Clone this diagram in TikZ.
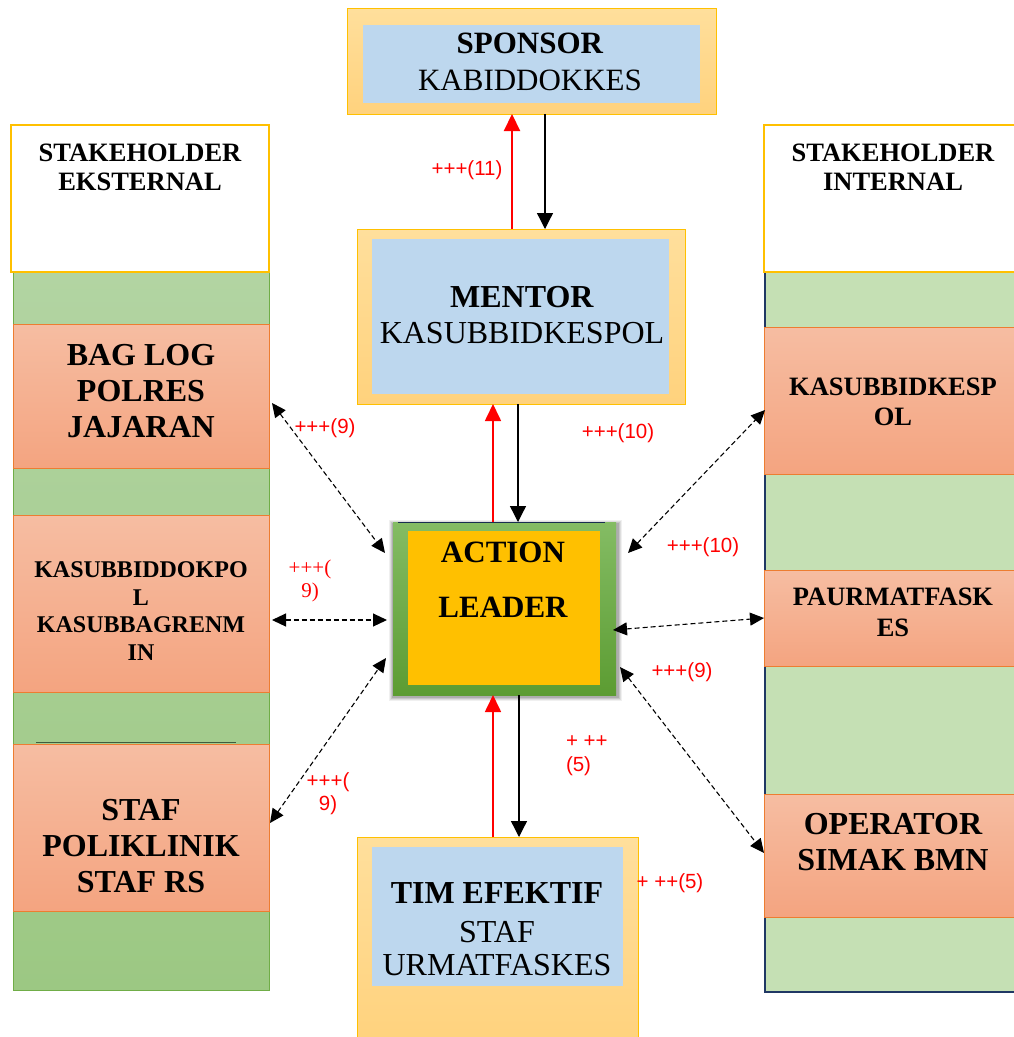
\documentclass[tikz,border=0pt]{standalone}
\usepackage{fontspec}
\setmainfont{Liberation Serif}
\newfontfamily\labelsans{Liberation Sans}
\usetikzlibrary{arrows.meta,calc}

\definecolor{boxgoldA}{HTML}{FFDF9C}
\definecolor{boxgoldB}{HTML}{FFD27D}
\definecolor{goldedge}{HTML}{FFC000}
\definecolor{paleblue}{HTML}{BDD7EE}
\definecolor{salmonA}{HTML}{F6BDA2}
\definecolor{salmonB}{HTML}{F4A480}
\definecolor{salmonedge}{HTML}{ED7D31}
\definecolor{leafA}{HTML}{B2D4A2}
\definecolor{leafB}{HTML}{9CC883}
\definecolor{leafedge}{HTML}{70AD47}
\definecolor{mint}{HTML}{C5E0B4}
\definecolor{navyedge}{HTML}{203864}
\definecolor{grassA}{HTML}{84BC64}
\definecolor{grassB}{HTML}{5C9C32}
\definecolor{amber}{HTML}{FFC000}
\definecolor{tagred}{HTML}{FF0000}
\definecolor{darkrule}{HTML}{3E5B3C}

\begin{document}
\begin{tikzpicture}[x=1pt,y=-1pt,
  every node/.style={inner sep=0pt, outer sep=0pt},
  frame/.style 2 args={rectangle, minimum width=#1pt, minimum height=#2pt},
  goldbox/.style={top color=boxgoldA, bottom color=boxgoldB, draw=goldedge, line width=1pt},
  bluebox/.style={fill=paleblue},
  salmonbox/.style={top color=salmonA, bottom color=salmonB, draw=salmonedge, line width=1pt},
  headbox/.style={fill=white, draw=goldedge, line width=2pt},
  greencol/.style={top color=leafA, bottom color=leafB, draw=leafedge, line width=0.8pt},
  mintcol/.style={fill=mint},
  leaderbox/.style={top color=grassA, bottom color=grassB},
  leaderin/.style={fill=amber},
  namebold/.style={font=\fontsize{32}{36}\selectfont\bfseries, align=center},
  headtext/.style={font=\fontsize{26.5}{29}\selectfont\bfseries, align=center},
  midtext/.style={font=\fontsize{26.5}{30.5}\selectfont\bfseries, align=center},
  smalltext/.style={font=\fontsize{24}{27.5}\selectfont\bfseries, align=center},
  blkarrow/.style={-{Triangle[length=16pt,width=16pt]}, line width=1.3pt, black},
  redarrow/.style={-{Triangle[length=17pt,width=16pt]}, line width=1.7pt, red},
  linkarrow/.style={{Triangle[length=14pt,width=13pt]}-{Triangle[length=14pt,width=13pt]},
                    dash pattern=on 5pt off 3pt, line width=1.1pt, black},
  tag/.style={text=tagred, font=\labelsans\fontsize{20.5}{24}\selectfont, align=center},
  tagserif/.style={text=tagred, font=\fontsize{21}{23}\selectfont, align=center}
]
\useasboundingbox (0,0) rectangle (1014,1037);
\clip (0,0) rectangle (1014,1037);
\fill[white] (0,0) rectangle (1014,1037);

% ---------- external stakeholders (left column) ----------
\node[frame={256}{718}, greencol] (extcol) at (141,631) {};
\node[frame={258}{147}, headbox] (exthead) at (140,198.5) {};
\node[headtext] (extheadtxt) at (140,167.5) {STAKEHOLDER\\EKSTERNAL};
\node[frame={256}{144}, salmonbox] (bag) at (141,396) {};
\node[namebold] (bagtxt) at (141,391) {BAG LOG\\POLRES\\JAJARAN};
\node[frame={256}{177}, salmonbox] (dok) at (141,603.5) {};
\node[smalltext] (doktxt) at (141,611) {KASUBBIDDOKPO\\L\\KASUBBAGRENM\\IN};
\node[frame={256}{167}, salmonbox] (staf) at (141,827.5) {};
\draw[line width=1.2pt, darkrule] (36,742.5) -- (236,742.5);
\node[namebold] (staftxt) at (141,846) {STAF\\POLIKLINIK\\STAF RS};

% ---------- internal stakeholders (right column) ----------
\node[frame={257}{720}, mintcol] (intcol) at (893.5,632) {};
\draw[navyedge, line width=2pt] (intcol.north west) -- (intcol.south west) -- (intcol.south east);
\node[frame={258}{147}, headbox] (inthead) at (893,198.5) {};
\node[headtext] (intheadtxt) at (893,167.5) {STAKEHOLDER\\INTERNAL};
\node[frame={258}{147}, salmonbox] (kes) at (893,400.5) {};
\node[midtext] (kestxt) at (893,402) {KASUBBIDKESP\\OL};
\node[frame={258}{96}, salmonbox] (paur) at (893,618) {};
\node[midtext] (paurtxt) at (893,612.5) {PAURMATFASK\\ES};
\node[frame={258}{123}, salmonbox] (oper) at (893,855.5) {};
\node[namebold] (opertxt) at (893,842.5) {OPERATOR\\SIMAK BMN};

% ---------- sponsor ----------
\node[frame={369}{106}, goldbox] (spon) at (531.5,61) {};
\node[frame={337}{78}, bluebox] (sponin) at (531.5,64) {};
\node[font=\fontsize{31}{37}\selectfont, align=center] (spontxt) at (530,62)
  {\textbf{SPONSOR}\\KABIDDOKKES};

% ---------- mentor ----------
\node[frame={328}{175}, goldbox] (ment) at (521,316.5) {};
\node[frame={297}{155}, bluebox] (mentin) at (520.5,316.5) {};
\node[font=\fontsize{32}{36}\selectfont, align=center] (menttxt) at (522,315)
  {\textbf{MENTOR}\\KASUBBIDKESPOL};

% ---------- action leader ----------
\foreach \g/\op in {5/0.06,4/0.08,3/0.10,2/0.12}
  \fill[black, opacity=\op] (393-\g+1,522-\g+3) rectangle (616+\g+1,695+\g+1);
\node[frame={223}{173}, leaderbox] (act) at (504.5,608.5) {};
\node[frame={192}{154}, leaderin] (actin) at (504,608) {};
\draw[navyedge!80!black, line width=0.8pt] (398,522) -- (605,522);
\node[font=\fontsize{31}{55}\selectfont\bfseries, align=center] (acttxt) at (503,579.5)
  {ACTION\\LEADER};

% ---------- effective team ----------
\node[frame={281}{208}, goldbox] (tim) at (497.5,941) {};
\node[frame={251}{139}, bluebox] (timin) at (497.5,916.5) {};
\node[font=\fontsize{32}{33}\selectfont, align=center] (timtxt) at (497,929)
  {\textbf{TIM EFEKTIF}\\[6pt]STAF\\URMATFASKES};

% ---------- vertical reporting lines ----------
\draw[redarrow, line width=2.2pt] ([xshift=-9pt]ment.north) -- ([xshift=-9pt]ment.north |- spon.south);
\draw[blkarrow] ([xshift=24pt]ment.north |- spon.south) -- ([xshift=24pt]ment.north);
\node[tag] (t11) at (467,170) {+++(11)};

\draw[redarrow] ([xshift=-11.5pt]act.north) -- ([xshift=-11.5pt]act.north |- ment.south);
\draw[blkarrow] ([xshift=13.5pt]act.north |- ment.south) -- ([xshift=13.5pt]act.north);
\node[tag] (t10a) at (618,433) {+++(10)};

\draw[redarrow] ([xshift=-4.5pt]tim.north) -- ([xshift=-4.5pt]tim.north |- act.south);
\draw[blkarrow] ([xshift=21.5pt]tim.north |- act.south) -- ([xshift=21.5pt]tim.north);
\node[tag, align=left, anchor=west] (t5a) at (566,756) {+ ++\\(5)};
\node[tag] (t5b) at (670,883) {+ ++(5)};

% ---------- links to external stakeholders ----------
\draw[linkarrow] ($(bag.east)+(3,7)$) -- ($(act.west)+(-8,-55.5)$);
\node[tag] (t9a) at (325,428) {+++(9)};
\draw[linkarrow] ($(dok.east)+(3,16.5)$) -- ($(act.west)+(-6,11.5)$);
\node[tagserif] (t9b) at (310,581) {+++(\\9)};
\draw[linkarrow] ($(staf.east)+(1,-4.5)$) -- ($(act.west)+(-7,49.5)$);
\node[tag, font=\labelsans\fontsize{20.5}{23}\selectfont] (t9c) at (328,794) {+++(\\9)};

% ---------- links to internal stakeholders ----------
\draw[linkarrow] ($(act.east)+(12,-55.5)$) -- ($(kes.west)+(1,9.5)$);
\node[tag] (t10b) at (703,547) {+++(10)};
\draw[linkarrow] ($(act.east)+(-3,21.5)$) -- (paur.west);
\node[tag] (t9d) at (682,672) {+++(9)};
\draw[linkarrow] ($(act.east)+(4,58.5)$) -- ($(oper.west)+(0,-2.5)$);

\end{tikzpicture}
\end{document}
